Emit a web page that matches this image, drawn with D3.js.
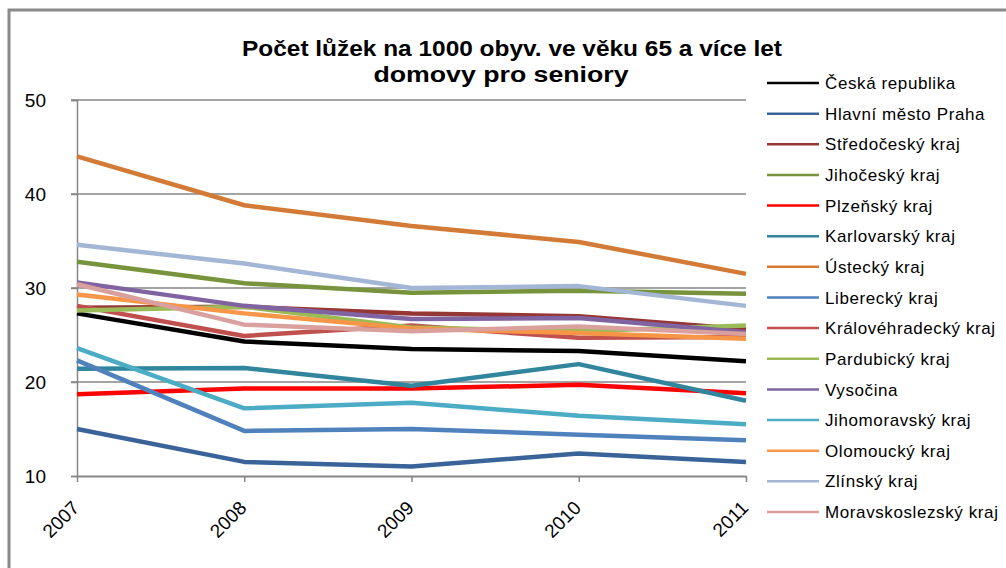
<!DOCTYPE html>
<html lang="cs">
<head>
<meta charset="UTF-8">
<title>Počet lůžek na 1000 obyv. ve věku 65 a více let</title>
<script src="https://d3js.org/d3.v7.min.js"></script>
<style>
    body { margin: 0; background: #fff; overflow: hidden; }
    svg { display: block; font-family: "Liberation Sans", Arial, sans-serif; }
    .grid line { stroke: #868686; stroke-width: 1.5px; }
    .tick-label { font-size: 19px; fill: #000; }
    .legend text { font-size: 17px; letter-spacing: 0.6px; fill: #000; }
</style>
</head>
<body>
<svg id="chart" width="1006" height="568"></svg>
<script>
// --- data ---
const years = [2007, 2008, 2009, 2010, 2011];
const yTicks = [10, 20, 30, 40, 50];

const ceskaRepublika   = [27.3, 24.3, 23.5, 23.3, 22.2];
const praha            = [15.0, 11.5, 11.0, 12.4, 11.5];
const stredocesky      = [27.9, 28.0, 27.3, 27.0, 25.6];
const jihocesky        = [32.8, 30.5, 29.5, 29.7, 29.4];
const plzensky         = [18.7, 19.3, 19.3, 19.7, 18.8];
const karlovarsky      = [21.4, 21.5, 19.6, 21.9, 18.0];
const ustecky          = [44.0, 38.8, 36.6, 34.9, 31.5];
const liberecky        = [22.3, 14.8, 15.0, 14.4, 13.8];
const kralovehradecky  = [28.1, 24.9, 26.0, 24.7, 24.8];
const pardubicky       = [27.6, 28.0, 25.8, 25.4, 26.0];
const vysocina         = [30.6, 28.1, 26.7, 26.8, 25.3];
const jihomoravsky     = [23.6, 17.2, 17.8, 16.4, 15.5];
const olomoucky        = [29.3, 27.3, 25.7, 25.2, 24.6];
const zlinsky          = [34.6, 32.6, 30.0, 30.2, 28.1];
const moravskoslezsky  = [30.4, 26.1, 25.4, 25.9, 25.1];

const seriesNames = [
    "Česká republika", "Hlavní město Praha", "Středočeský kraj", "Jihočeský kraj",
    "Plzeňský kraj", "Karlovarský kraj", "Ústecký kraj", "Liberecký kraj",
    "Královéhradecký kraj", "Pardubický kraj", "Vysočina", "Jihomoravský kraj",
    "Olomoucký kraj", "Zlínský kraj", "Moravskoslezský kraj"
];
const seriesValues = [
    ceskaRepublika, praha, stredocesky, jihocesky, plzensky, karlovarsky, ustecky,
    liberecky, kralovehradecky, pardubicky, vysocina, jihomoravsky, olomoucky,
    zlinsky, moravskoslezsky
];
const seriesColors = [
    "#000000", "#3a6399", "#953735", "#77933c", "#ff0000", "#31859c", "#d27a36",
    "#4f81bd", "#c0504d", "#9bbb59", "#8064a2", "#4bacc6", "#f79646",
    "#a3b6d6", "#d9a09e"
];

const series = seriesNames.map((name, i) => ({
    name,
    color: seriesColors[i],
    values: seriesValues[i].map((v, j) => ({ year: years[j], value: v }))
}));

// --- layout ---
const svg = d3.select("#chart");
const plot = { left: 77, right: 746, top: 100, bottom: 476 };

// outer chart frame (cut by the window on the right and bottom)
svg.append("rect")
    .attr("x", 9).attr("y", 10)
    .attr("width", 1100).attr("height", 700)
    .attr("fill", "none")
    .attr("stroke", "#8a8a8a")
    .attr("stroke-width", 3);

const x = d3.scalePoint().domain(years).range([plot.left, plot.right]);
const y = d3.scaleLinear().domain([10, 50]).range([plot.bottom, plot.top]);

// title
const title = svg.append("g").attr("font-weight", "bold").attr("font-size", 22).attr("text-anchor", "middle");
title.append("text").attr("x", 512).attr("y", 56)
    .attr("textLength", 540).attr("lengthAdjust", "spacingAndGlyphs")
    .text("Počet lůžek na 1000 obyv. ve věku 65 a více let");
title.append("text").attr("x", 501).attr("y", 82)
    .attr("textLength", 255).attr("lengthAdjust", "spacingAndGlyphs")
    .text("domovy pro seniory");

// horizontal gridlines + y ticks
const grid = svg.append("g").attr("class", "grid");
grid.selectAll("line")
    .data(yTicks.filter(d => d !== 10))
    .join("line")
    .attr("x1", plot.left - 6).attr("x2", plot.right)
    .attr("y1", d => y(d)).attr("y2", d => y(d));

// y axis
const yAxis = svg.append("g")
    .attr("transform", `translate(${plot.left},0)`)
    .call(d3.axisLeft(y).tickValues(yTicks).tickSize(6).tickPadding(25).tickFormat(d3.format("d")));
yAxis.select(".domain").attr("stroke", "#868686").attr("stroke-width", 1.5);
yAxis.selectAll(".tick line").attr("stroke", "#868686").attr("stroke-width", 1.5);
yAxis.selectAll(".tick text").attr("class", "tick-label").attr("font-family", null).attr("font-size", null);

// x axis
const xAxis = svg.append("g")
    .attr("transform", `translate(0,${plot.bottom})`)
    .call(d3.axisBottom(x).tickSize(6).tickSizeOuter(0));
xAxis.select(".domain").attr("stroke", "#868686").attr("stroke-width", 2);
xAxis.selectAll(".tick line").attr("stroke", "#868686").attr("stroke-width", 1.5);
xAxis.selectAll(".tick text")
    .attr("class", "tick-label")
    .attr("font-family", null).attr("font-size", null)
    .attr("text-anchor", "end")
    .attr("dy", null).attr("y", 0)
    .attr("transform", "translate(3,33) rotate(-45)");

// lines
const line = d3.line()
    .x(d => x(d.year))
    .y(d => y(d.value));

svg.append("g")
    .selectAll("path")
    .data(series)
    .join("path")
    .attr("fill", "none")
    .attr("stroke", d => d.color)
    .attr("stroke-width", 4.5)
    .attr("stroke-linejoin", "round")
    .attr("d", d => line(d.values));

// legend
const legend = svg.append("g").attr("class", "legend").attr("transform", "translate(767,83)");
const item = legend.selectAll("g")
    .data(series)
    .join("g")
    .attr("transform", (d, i) => `translate(0,${i * 30.64})`);
item.append("line")
    .attr("x1", 0).attr("x2", 52)
    .attr("stroke", d => d.color)
    .attr("stroke-width", 2.5);
item.append("text")
    .attr("x", 58)
    .attr("dy", "0.36em")
    .text(d => d.name);
</script>
</body>
</html>
